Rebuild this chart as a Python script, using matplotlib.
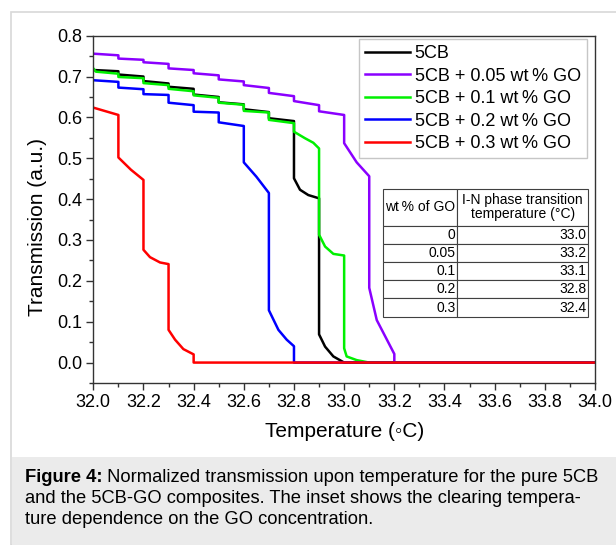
import matplotlib
matplotlib.use('Agg')
import matplotlib.pyplot as plt
from matplotlib.patches import Rectangle
from matplotlib.ticker import MultipleLocator

plt.rcParams['font.family'] = ['Liberation Sans', 'DejaVu Sans']

# --- Data (temperature in C, transmission in a.u.) ---
LABELS = ['5CB', '5CB + 0.05 wt\u2009% GO', '5CB + 0.1 wt\u2009% GO',
          '5CB + 0.2 wt\u2009% GO', '5CB + 0.3 wt\u2009% GO']
COLORS = ['#000000', '#8a00ff', '#00f000', '#0000ff', '#ff0000']

t_0 = [32.0, 32.1, 32.1, 32.2, 32.2, 32.3, 32.3, 32.4, 32.4, 32.5, 32.5, 32.6, 32.6,
       32.7, 32.7, 32.8, 32.8, 32.824, 32.857, 32.9, 32.9, 32.924, 32.957, 33.0, 34.0]
tr_0 = [0.716, 0.713, 0.705, 0.700, 0.689, 0.683, 0.675, 0.670, 0.656, 0.650, 0.637, 0.632, 0.620,
        0.613, 0.598, 0.591, 0.451, 0.423, 0.410, 0.402, 0.069, 0.039, 0.015, 0.0, 0.0]

t_005 = [32.0, 32.1, 32.1, 32.2, 32.2, 32.3, 32.3, 32.4, 32.4, 32.5, 32.5, 32.6, 32.6, 32.7,
         32.7, 32.8, 32.8, 32.9, 32.9, 33.0, 33.0, 33.05, 33.1, 33.1, 33.13, 33.2, 33.2, 34.0]
tr_005 = [0.756, 0.752, 0.744, 0.741, 0.735, 0.731, 0.720, 0.716, 0.708, 0.703, 0.693, 0.688, 0.679, 0.672,
          0.660, 0.652, 0.640, 0.630, 0.615, 0.606, 0.537, 0.490, 0.456, 0.183, 0.104, 0.021, 0.0, 0.0]

t_01 = [32.0, 32.01, 32.1, 32.1, 32.2, 32.2, 32.3, 32.3, 32.4, 32.4, 32.5, 32.5, 32.6, 32.6, 32.7,
        32.7, 32.8, 32.8, 32.844, 32.877, 32.9, 32.9, 32.924, 32.957, 33.0, 33.0, 33.01, 33.05, 33.1, 34.0]
tr_01 = [0.720, 0.712, 0.707, 0.699, 0.696, 0.684, 0.679, 0.670, 0.664, 0.654, 0.648, 0.636, 0.631, 0.616, 0.612,
         0.594, 0.586, 0.565, 0.549, 0.538, 0.524, 0.313, 0.284, 0.266, 0.262, 0.035, 0.015, 0.006, 0.0, 0.0]

t_02 = [32.0, 32.1, 32.1, 32.2, 32.2, 32.3, 32.3, 32.4, 32.4, 32.5, 32.5, 32.6, 32.6, 32.65,
        32.7, 32.7, 32.738, 32.771, 32.8, 32.8, 34.0]
tr_02 = [0.691, 0.687, 0.673, 0.669, 0.657, 0.655, 0.636, 0.630, 0.614, 0.612, 0.588, 0.579, 0.490, 0.455,
         0.415, 0.128, 0.080, 0.056, 0.040, 0.0, 0.0]

t_03 = [32.0, 32.1, 32.1, 32.15, 32.2, 32.2, 32.226, 32.266, 32.3, 32.3, 32.326, 32.359, 32.4, 32.4, 34.0]
tr_03 = [0.624, 0.606, 0.502, 0.472, 0.447, 0.276, 0.258, 0.245, 0.241, 0.080, 0.056, 0.033, 0.020, 0.0, 0.0]

SERIES = [(t_0, tr_0), (t_005, tr_005), (t_01, tr_01), (t_02, tr_02), (t_03, tr_03)]

# inset table
TABLE_HEAD = ['wt\u2009% of GO', 'I-N phase transition\ntemperature (\u00b0C)']
WT_GO = ['0', '0.05', '0.1', '0.2', '0.3']
T_IN = ['33.0', '33.2', '33.1', '32.8', '32.4']

CAPTION = [('Figure 4:', ' Normalized transmission upon temperature for the pure 5CB'),
           ('', 'and the 5CB-GO composites. The inset shows the clearing tempera-'),
           ('', 'ture dependence on the GO concentration.')]

W, H = 616, 545
fig = plt.figure(figsize=(W / 100, H / 100), dpi=100)

# panel frame and caption band
fig.patches.append(Rectangle((11 / W, 0), 1, 1 - 12 / H, transform=fig.transFigure,
                             facecolor='white', edgecolor='#d8d8d8', lw=1.2, zorder=-2))
fig.patches.append(Rectangle((11.5 / W, 0), 1, (H - 457) / H, transform=fig.transFigure,
                             facecolor='#ebebeb', edgecolor='none', zorder=-1))

ax = fig.add_axes([93.3 / W, 1 - 383 / H, (595 - 93.3) / W, (383 - 35.7) / H])
for (t, tr), c, lab in zip(SERIES, COLORS, LABELS):
    ax.plot(t, tr, color=c, lw=1.8, label=lab)

ax.set_xlim(32.0, 34.0)
ax.set_ylim(-0.05, 0.8)
ax.xaxis.set_major_locator(MultipleLocator(0.2))
ax.xaxis.set_minor_locator(MultipleLocator(0.1))
ax.yaxis.set_major_locator(MultipleLocator(0.1))
ax.yaxis.set_minor_locator(MultipleLocator(0.05))
ax.xaxis.set_major_formatter(lambda v, p: f'{v:.1f}')
ax.yaxis.set_major_formatter(lambda v, p: f'{v:.1f}')
ax.tick_params(which='both', direction='out', color='#333333', width=1.0)
ax.tick_params(which='major', length=5, labelsize=13, pad=3)
ax.tick_params(which='minor', length=3)
for s in ax.spines.values():
    s.set_color('#333333')
    s.set_linewidth(1.0)

ax.set_xlabel('Temperature (\u25e6C)', fontsize=15, labelpad=8)
ax.set_ylabel('Transmission (a.u.)', fontsize=15)
ax.yaxis.set_label_coords(-0.093, 0.45)

leg = ax.legend(loc='upper right', bbox_to_anchor=(587 / W, 1 - 39 / H), bbox_transform=fig.transFigure,
                borderaxespad=0, fontsize=13, frameon=True, fancybox=False, edgecolor='#b8b8b8',
                handlelength=2.5, handletextpad=0.25, labelspacing=0.3, borderpad=0.35)
leg.get_frame().set_linewidth(1.0)

# inset table
cells = [[a, b] for a, b in zip(WT_GO, T_IN)]
tab = ax.table(cellText=cells, colLabels=TABLE_HEAD, cellLoc='right',
               colWidths=[74, 131], bbox=[0.578, 0.191, 0.408, 0.367])
tab.auto_set_font_size(False)
tab.set_fontsize(10)
for (r, c), cell in tab.get_celld().items():
    cell.set_edgecolor('#404040')
    cell.set_linewidth(0.8)
    cell.PAD = 0.02 if c == 0 else 0.012
    cell.set_height(2.0 if r == 0 else 1.0)
    if r == 0:
        cell.get_text().set_horizontalalignment('center')
        cell.get_text().set_linespacing(1.0)

# caption with bold lead
cap_ax = fig.add_axes([0, 0, 1, 1], facecolor='none')
cap_ax.set_axis_off()
for i, (bold, rest) in enumerate(CAPTION):
    y = 1 - (477 + i * 21.5) / H
    if bold:
        b = cap_ax.text(25 / W, y, bold, fontsize=13.2, fontweight='bold', va='center')
        cap_ax.annotate(rest, xy=(1, 0.5), xycoords=b, va='center', fontsize=13.2)
    else:
        cap_ax.text(25 / W, y, rest, fontsize=13.2, va='center')

fig.savefig('out.png', dpi=100)
